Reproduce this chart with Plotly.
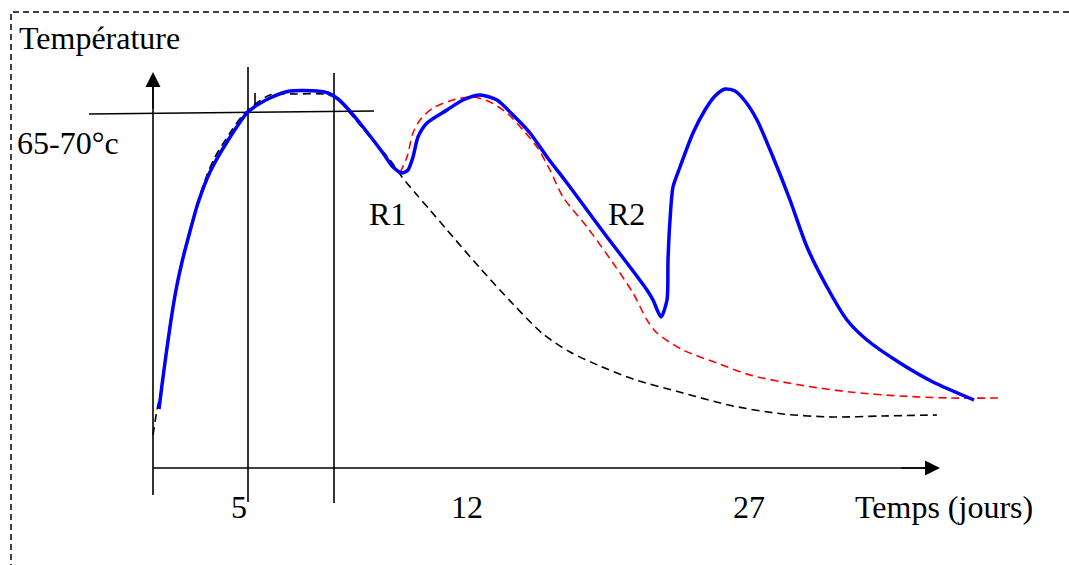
import plotly.graph_objects as go

# drawing units follow the sketch: x to the right, y downwards (0..1069 x 0..565)

# solid blue curve (temperature with two re-heatings R1, R2)
blue_x = [159, 162, 166, 171, 176, 182, 189, 198, 210, 227, 248, 270, 290, 317, 328, 338,
          348, 363, 383, 393, 402, 408, 413, 418, 427, 447, 463, 480, 497, 513, 530, 547,
          567, 587, 607, 627, 647, 653, 661, 667, 668, 670, 673, 680, 693, 705, 715, 725,
          735, 745, 757, 773, 790, 807, 827, 847, 867, 900, 933, 974]
blue_y = [409, 385, 355, 320, 290, 262, 235, 203, 172, 142, 112, 98, 91, 91, 93, 99,
          109, 127, 153, 167, 173, 170, 157, 137, 123, 110, 100, 95, 100, 115, 133, 157,
          183, 210, 237, 263, 290, 300, 317, 300, 260, 220, 187, 167, 133, 110, 96, 89,
          91, 101, 120, 157, 200, 247, 287, 320, 340, 363, 382, 400]

# red dashed curve (after R1, without R2)
red_x = [400, 407, 413, 420, 433, 453, 473, 490, 507, 523, 537, 550, 563, 587, 613, 633,
         647, 657, 683, 717, 750, 800, 850, 900, 950, 998]
red_y = [173, 157, 133, 120, 108, 100, 97, 102, 113, 130, 147, 170, 197, 227, 263, 293,
         320, 333, 350, 363, 375, 385, 392, 396, 398, 398]

# black dashed curve (no re-heating)
black_x = [153, 157, 162, 166, 171, 179, 187, 196, 207, 215, 230, 243, 270, 297, 323, 337,
           350, 370, 390, 402, 417, 430, 447, 480, 513, 543, 570, 600, 633, 683, 733, 783,
           833, 883, 937]
black_y = [435, 410, 385, 352, 318, 275, 243, 208, 175, 157, 133, 115, 95, 94, 94, 98,
           113, 137, 160, 177, 195, 210, 230, 268, 304, 334, 352, 366, 379, 393, 406, 414,
           417, 416, 415]

# guide lines: [x0, x1], [y0, y1]
y_axis = ([153, 153], [495, 80])
x_axis = ([153, 932], [468, 468])
line_5 = ([248, 248], [67, 502])
line_8 = ([334, 334], [73, 503])
line_65 = ([89, 374], [114, 111])
small_tick = ([255, 255], [93, 106])
border_x = [1069, 11, 11]
border_y = [12, 12, 565]

# texts
labels = ["Température", "65-70°c", "R1", "R2", "5", "12", "27", "Temps (jours)"]
label_x = [17, 15, 387, 626, 238.5, 466.5, 748.5, 943.5]
label_y = [38, 143, 214, 214, 507, 507, 507, 507]
label_anchor = ["left", "left", "center", "center", "center", "center", "center", "center"]

fig = go.Figure()

fig.add_trace(go.Scatter(x=border_x, y=border_y, mode='lines',
                         line=dict(color='black', width=1.5, dash='6px,4px'),
                         hoverinfo='skip'))

for lx, ly in [y_axis, x_axis, line_5, line_8, line_65, small_tick]:
    fig.add_trace(go.Scatter(x=lx, y=ly, mode='lines',
                             line=dict(color='black', width=1.6),
                             hoverinfo='skip'))

fig.add_trace(go.Scatter(x=black_x, y=black_y, mode='lines',
                         line=dict(color='black', width=1.6, dash='8px,5px',
                                   shape='spline', smoothing=0.8),
                         hoverinfo='skip'))
fig.add_trace(go.Scatter(x=red_x, y=red_y, mode='lines',
                         line=dict(color='#ff0000', width=1.6, dash='8px,5px',
                                   shape='spline', smoothing=0.8),
                         hoverinfo='skip'))
fig.add_trace(go.Scatter(x=blue_x, y=blue_y, mode='lines',
                         line=dict(color='#0000ff', width=3.5,
                                   shape='spline', smoothing=0.7),
                         hoverinfo='skip'))

# arrow heads of the two axes
fig.add_annotation(x=153, y=72, ax=153, ay=110, xref='x', yref='y', axref='x', ayref='y',
                   text='', showarrow=True, arrowhead=2, arrowsize=2, arrowwidth=1.5,
                   arrowcolor='black')
fig.add_annotation(x=940, y=468, ax=900, ay=468, xref='x', yref='y', axref='x', ayref='y',
                   text='', showarrow=True, arrowhead=2, arrowsize=2, arrowwidth=1.5,
                   arrowcolor='black')

for t, tx, ty, anc in zip(labels, label_x, label_y, label_anchor):
    fig.add_annotation(x=tx, y=ty, xref='x', yref='y', text=t, showarrow=False,
                       xanchor=anc, yanchor='middle',
                       font=dict(family='Liberation Serif', size=32, color='black'))

fig.update_layout(
    width=1069, height=565,
    margin=dict(l=0, r=0, t=0, b=0),
    paper_bgcolor='white', plot_bgcolor='white',
    showlegend=False,
    xaxis=dict(range=[0, 1069], visible=False, fixedrange=True),
    yaxis=dict(range=[565, 0], visible=False, fixedrange=True),
)

# drop the default page margin so the figure fills the window
fig.write_html("out.html", config={'displayModeBar': False},
               post_script="document.body.style.margin='0px';")
